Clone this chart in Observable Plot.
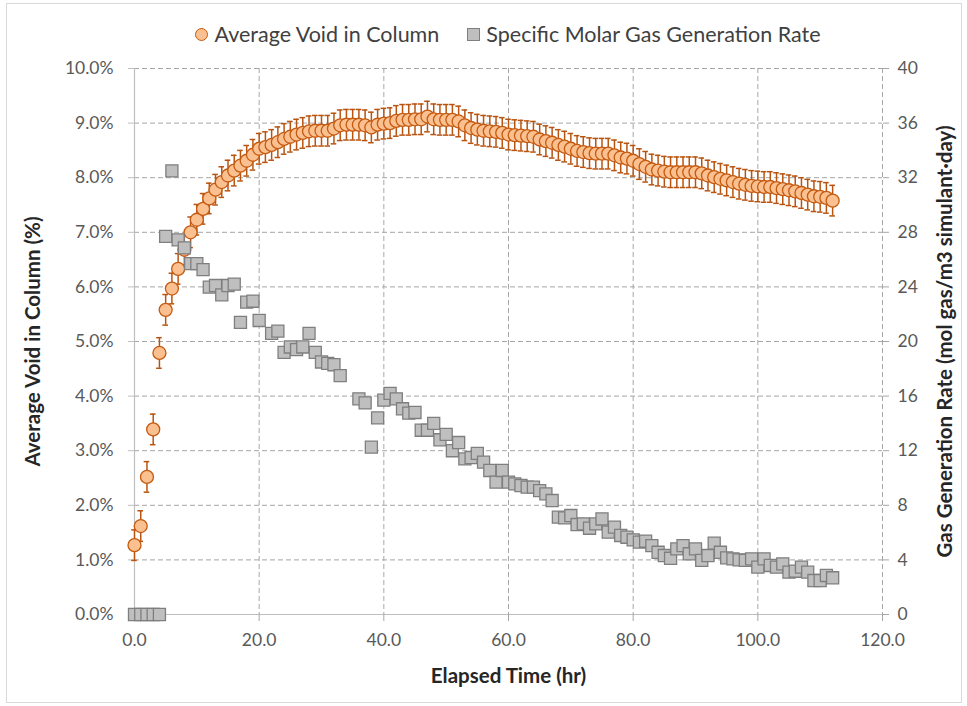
<!DOCTYPE html>
<html>
<head>
<meta charset="utf-8">
<script src="https://cdn.jsdelivr.net/npm/d3@7"></script>
<script src="https://cdn.jsdelivr.net/npm/@observablehq/plot@0.6"></script>
<style>
  html, body { margin: 0; padding: 0; background: #fff; }
  #wrap { position: relative; width: 967px; height: 706px; overflow: hidden; font-family: Lato, "Open Sans", sans-serif; }
  #legend { height: 50px; display: flex; justify-content: center; align-items: center; gap: 28px; padding-top: 18px; box-sizing: border-box;
            font-size: 21.5px; color: #404040; width: 1016px; }
  .item { display: flex; align-items: center; gap: 6px; }
  .circ { width: 11px; height: 11px; border-radius: 50%; background: #FAC090; border: 1.5px solid #C55A11; }
  .sq { width: 11px; height: 11px; background: #BFBFBF; border: 1.5px solid #7F7F7F; }
  #border { position: absolute; left: 6px; top: 3px; width: 956px; height: 700px; border: 1px solid #d9d9d9; box-sizing: border-box; pointer-events: none; }
</style>
</head>
<body>
<div id="wrap">
  <div id="legend">
    <div class="item"><span class="circ"></span><span>Average Void in Column</span></div>
    <div class="item"><span class="sq"></span><span>Specific Molar Gas Generation Rate</span></div>
  </div>
  <div id="chart"></div>
  <div id="border"></div>
</div>
<script>
// Elapsed time (hr)
const hours = [0,1,2,3,4,5,6,7,8,9,10,11,12,13,14,15,16,17,18,19,20,21,22,23,24,25,26,27,28,29,30,31,32,33,34,35,36,37,38,39,40,41,42,43,44,45,46,47,48,49,50,51,52,53,54,55,56,57,58,59,60,61,62,63,64,65,66,67,68,69,70,71,72,73,74,75,76,77,78,79,80,81,82,83,84,85,86,87,88,89,90,91,92,93,94,95,96,97,98,99,100,101,102,103,104,105,106,107,108,109,110,111,112];
// Average Void in Column (%)
const voidPct = [1.27,1.62,2.52,3.39,4.79,5.58,5.97,6.33,6.68,7.00,7.23,7.43,7.62,7.78,7.92,8.04,8.13,8.22,8.31,8.42,8.53,8.56,8.60,8.65,8.71,8.75,8.79,8.82,8.85,8.86,8.86,8.86,8.90,8.96,8.97,8.97,8.97,8.96,8.92,8.97,8.99,9.00,9.04,9.06,9.06,9.07,9.07,9.12,9.07,9.06,9.06,9.06,9.03,8.96,8.91,8.88,8.86,8.85,8.84,8.82,8.79,8.78,8.77,8.76,8.75,8.70,8.67,8.64,8.60,8.57,8.53,8.49,8.47,8.45,8.44,8.44,8.44,8.41,8.37,8.35,8.31,8.25,8.20,8.15,8.13,8.11,8.10,8.10,8.10,8.10,8.10,8.08,8.04,8.01,7.98,7.95,7.92,7.89,7.87,7.85,7.84,7.83,7.83,7.81,7.79,7.77,7.75,7.72,7.69,7.66,7.65,7.63,7.58];
// Error bar half-width (% void)
const voidErr = 0.28;
// Specific Molar Gas Generation Rate (mol gas/m3 simulant·day); null = no point
const gasRate = [0,0,0,0,0,27.7,32.5,27.45,26.86,25.7,25.7,25.27,23.98,24.1,23.42,24.1,24.2,21.4,22.88,22.95,21.54,null,20.6,20.76,19.2,19.6,19.4,19.6,20.6,19.2,18.5,18.4,18.3,17.5,null,null,15.8,15.5,12.26,14.4,15.7,16.2,15.8,15.07,14.75,14.8,13.5,13.5,14.0,12.8,13.2,12.0,12.6,11.4,11.5,11.8,11.16,10.55,9.7,10.55,9.7,9.57,9.45,9.33,9.33,9.08,8.84,8.35,7.13,7.08,7.25,6.59,6.64,6.32,6.64,7.0,6.03,6.4,5.79,5.66,5.47,5.3,5.37,5.05,4.56,4.32,4.12,4.81,5.05,4.45,4.81,3.96,4.32,5.22,4.56,4.15,4.08,4.0,3.96,4.08,3.47,4.08,3.59,3.47,3.71,3.1,3.17,3.47,3.1,2.49,2.49,2.86,2.69];

const xTicks = [0,20,40,60,80,100,120];
const yTicks = [0,1,2,3,4,5,6,7,8,9,10];
const rightTickLabels = ["0","4","8","12","16","20","24","28","32","36","40"];
const rightMax = 40, leftMax = 10;

const voidData = hours.map((t, i) => ({t, v: voidPct[i]}));
const rateData = hours.map((t, i) => ({t, r: gasRate[i]})).filter(d => d.r != null);
const toLeft = r => r * leftMax / rightMax;

const grid = {stroke: "#a6a6a6", strokeOpacity: 1, strokeDasharray: "5,3", strokeWidth: 1};
const orangeDark = "#B85410";
const titleStyle = {fontWeight: "bold", fontSize: 20.5, fill: "#262626", lineAnchor: "middle", textAnchor: "middle"};

const chart = Plot.plot({
  width: 967,
  height: 656,
  marginLeft: 134,
  marginRight: 85,
  marginTop: 18,
  marginBottom: 92,
  x: {domain: [0, 120]},
  y: {domain: [0, 10]},
  style: {fontFamily: "Lato, 'Open Sans', sans-serif", fontSize: "17.5px", color: "#595959", background: "white", overflow: "visible"},
  marks: [
    Plot.gridY(yTicks.slice(1), grid),
    Plot.gridX(xTicks.slice(1), grid),
    Plot.ruleX([0], {stroke: "#bfbfbf", strokeWidth: 1.2}),
    Plot.ruleY([0], {stroke: "#bfbfbf", strokeWidth: 1.2}),
    Plot.axisY(yTicks, {anchor: "left", tickSize: 6, tickPadding: 15, stroke: "#bfbfbf", tickFormat: d => d.toFixed(1) + "%", label: null}),
    Plot.axisY(yTicks, {anchor: "right", tickSize: 6, tickPadding: 9, stroke: "#a6a6a6", tickFormat: (d, i) => rightTickLabels[i], label: null}),
    Plot.axisX(xTicks, {anchor: "bottom", tickSize: 7, tickPadding: 12, stroke: "#a6a6a6", tickFormat: d => d.toFixed(1), label: null}),
    // error bars
    Plot.ruleX(voidData, {x: "t", y1: d => d.v - voidErr, y2: d => d.v + voidErr, stroke: orangeDark, strokeWidth: 1.5}),
    Plot.ruleY(voidData, {y: d => d.v + voidErr, x1: d => d.t - 0.45, x2: d => d.t + 0.45, stroke: orangeDark, strokeWidth: 1.5}),
    Plot.ruleY(voidData, {y: d => d.v - voidErr, x1: d => d.t - 0.45, x2: d => d.t + 0.45, stroke: orangeDark, strokeWidth: 1.5}),
    Plot.dot(voidData, {x: "t", y: "v", r: 6.5, fill: "#FAC090", stroke: "#C55A11", strokeWidth: 1.3}),
    // gas generation rate, secondary axis
    Plot.dot(rateData, {x: "t", y: d => toLeft(d.r), symbol: "square", r: 6.8, fill: "#BFBFBF", stroke: "#7F7F7F", strokeWidth: 1.3}),
    // axis titles
    Plot.text(["Average Void in Column (%)"], {frameAnchor: "left", dx: -101, rotate: -90, ...titleStyle}),
    Plot.text(["Gas Generation Rate (mol gas/m3 simulant·day)"], {frameAnchor: "right", dx: 63, rotate: -90, ...titleStyle}),
    Plot.text(["Elapsed Time (hr)"], {frameAnchor: "bottom", dy: 62, ...titleStyle})
  ]
});
document.getElementById("chart").appendChild(chart);
</script>
</body>
</html>
